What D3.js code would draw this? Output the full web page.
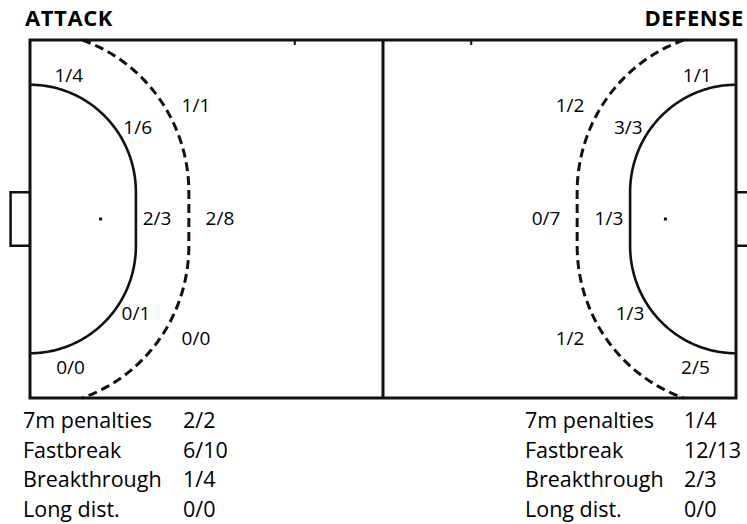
<!DOCTYPE html>
<html>
<head>
<meta charset="utf-8">
<script src="https://cdn.jsdelivr.net/npm/d3@7"></script>
<style>
  body { margin: 0; background: #fff; }
  svg { display: block; }
</style>
</head>
<body>
<div id="chart"></div>
<script>
// shooting zones, listed along the 6m line (top to bottom), then the 9m line
let zones = ["Wing top", "6m top", "6m centre", "6m bottom", "Wing bottom", "9m top", "9m centre", "9m bottom"]
let attackGoals = [1, 1, 2, 0, 0, 1, 2, 0]
let attackShots = [4, 6, 3, 1, 0, 1, 8, 0]
let defenseGoals = [1, 3, 1, 1, 2, 1, 0, 1]
let defenseShots = [1, 3, 3, 3, 5, 2, 7, 2]

let situations = ["7m penalties", "Fastbreak", "Breakthrough", "Long dist."]
let attackSitGoals = [2, 6, 1, 0]
let attackSitShots = [2, 10, 4, 0]
let defenseSitGoals = [1, 12, 2, 0]
let defenseSitShots = [4, 13, 3, 0]

// where each zone label sits, in metres from the goal line / from the top sideline
let zoneLayout = {
  "Wing top": [2.2, 2.0],
  "6m top": [6.1, 4.9],
  "6m centre": [7.2, 9.94],
  "6m bottom": [6.0, 15.25],
  "Wing bottom": [2.3, 18.3],
  "9m top": [9.4, 3.63],
  "9m centre": [10.76, 9.94],
  "9m bottom": [9.4, 16.65]
}

let cfg = {
  w: 747,
  h: 524,
  courtLength: 40,
  courtWidth: 20,
  left: 30,
  right: 736,
  top: 40,
  bottom: 398,
  font: "'Open Sans', 'Noto Sans', sans-serif"
}

let svg = d3.select("#chart")
  .append("svg")
  .attr("width", cfg.w)
  .attr("height", cfg.h)

let x = d3.scaleLinear().domain([0, cfg.courtLength]).range([cfg.left, cfg.right])
let y = d3.scaleLinear().domain([0, cfg.courtWidth]).range([cfg.top, cfg.bottom])

let mid = cfg.courtWidth / 2
let postTop = mid - 1.5
let postBottom = mid + 1.5

// arc of given radius around both posts, cut at the sidelines
function areaLine(r) {
  let a0 = r > postTop ? Math.acos(postTop / r) : 0
  let pts = []
  d3.range(a0, Math.PI / 2 + 0.001, 0.02).forEach(function (a) {
    pts.push([r * Math.sin(a), postTop - r * Math.cos(a)])
  })
  pts.push([r, postTop], [r, postBottom])
  d3.range(Math.PI / 2, a0 - 0.001, -0.02).forEach(function (a) {
    pts.push([r * Math.sin(a), postBottom + r * Math.cos(a)])
  })
  pts.push([r * Math.sin(a0), postBottom + r * Math.cos(a0)])
  return pts
}

let sides = [
  { name: "left", fx: function (m) { return x(m) } },
  { name: "right", fx: function (m) { return x(cfg.courtLength - m) } }
]

let court = svg.append("g").attr("class", "court")

sides.forEach(function (s) {
  let line = d3.line()
    .x(function (d) { return s.fx(d[0]) })
    .y(function (d) { return y(d[1]) })

  // goal
  court.append("path")
    .attr("d", line([[0, postTop], [-1.1, postTop], [-1.1, postBottom], [0, postBottom]]))
    .style("fill", "none")
    .style("stroke", "#111")
    .style("stroke-width", "2.5px")

  // 6m goal area line
  court.append("path")
    .attr("d", line(areaLine(6)))
    .style("fill", "none")
    .style("stroke", "#111")
    .style("stroke-width", "2.6px")

  // 9m free throw line
  court.append("path")
    .attr("d", line(areaLine(9)))
    .style("fill", "none")
    .style("stroke", "#111")
    .style("stroke-width", "3px")
    .style("stroke-dasharray", "9,5")

  // 4m goalkeeper mark
  court.append("rect")
    .attr("x", s.fx(4) - 1.5)
    .attr("y", y(mid) - 1.5)
    .attr("width", 3)
    .attr("height", 3)
    .style("fill", "#111")
})

// outline and centre line
court.append("rect")
  .attr("x", x(0))
  .attr("y", y(0))
  .attr("width", x(cfg.courtLength) - x(0))
  .attr("height", y(cfg.courtWidth) - y(0))
  .style("fill", "none")
  .style("stroke", "#111")
  .style("stroke-width", "3px")

court.append("line")
  .attr("x1", x(cfg.courtLength / 2))
  .attr("x2", x(cfg.courtLength / 2))
  .attr("y1", y(0))
  .attr("y2", y(cfg.courtWidth))
  .style("stroke", "#111")
  .style("stroke-width", "3px")

// substitution marks
court.selectAll(".subs")
  .data([15, 25])
  .enter()
  .append("line")
  .attr("x1", function (d) { return x(d) })
  .attr("x2", function (d) { return x(d) })
  .attr("y1", y(0))
  .attr("y2", y(0) + 5)
  .style("stroke", "#111")
  .style("stroke-width", "2px")

// zone labels
let sideData = [
  { fx: sides[0].fx, goals: attackGoals, shots: attackShots },
  { fx: sides[1].fx, goals: defenseGoals, shots: defenseShots }
]
sideData.forEach(function (s) {
  svg.append("g")
    .selectAll("text")
    .data(zones)
    .enter()
    .append("text")
    .attr("x", function (d) { return s.fx(zoneLayout[d][0]) })
    .attr("y", function (d) { return y(zoneLayout[d][1]) })
    .attr("dy", "0.35em")
    .attr("text-anchor", "middle")
    .style("font-family", cfg.font)
    .style("font-size", "19px")
    .style("fill", "#000")
    .text(function (d, i) { return s.goals[i] + "/" + s.shots[i] })
})

// headings
svg.append("text")
  .attr("x", 25)
  .attr("y", 26)
  .style("font-family", cfg.font)
  .style("font-weight", "bold")
  .style("font-size", "22px")
  .style("letter-spacing", "0.6px")
  .text("ATTACK")

svg.append("text")
  .attr("x", 744)
  .attr("y", 26)
  .attr("text-anchor", "end")
  .style("font-family", cfg.font)
  .style("font-weight", "bold")
  .style("font-size", "22px")
  .style("letter-spacing", "0.6px")
  .text("DEFENSE")

// situation tables under the court
let rowY = d3.scalePoint().domain(situations).range([428, 517])
let tables = [
  { labelX: 23, valueX: 183, goals: attackSitGoals, shots: attackSitShots },
  { labelX: 525, valueX: 684, goals: defenseSitGoals, shots: defenseSitShots }
]
tables.forEach(function (t) {
  let g = svg.append("g")
  g.selectAll(".lab")
    .data(situations)
    .enter()
    .append("text")
    .attr("x", t.labelX)
    .attr("y", function (d) { return rowY(d) })
    .style("font-family", cfg.font)
    .style("font-size", "21.5px")
    .text(function (d) { return d })
  g.selectAll(".val")
    .data(situations)
    .enter()
    .append("text")
    .attr("x", t.valueX)
    .attr("y", function (d) { return rowY(d) })
    .style("font-family", cfg.font)
    .style("font-size", "21.5px")
    .text(function (d, i) { return t.goals[i] + "/" + t.shots[i] })
})
</script>
</body>
</html>
